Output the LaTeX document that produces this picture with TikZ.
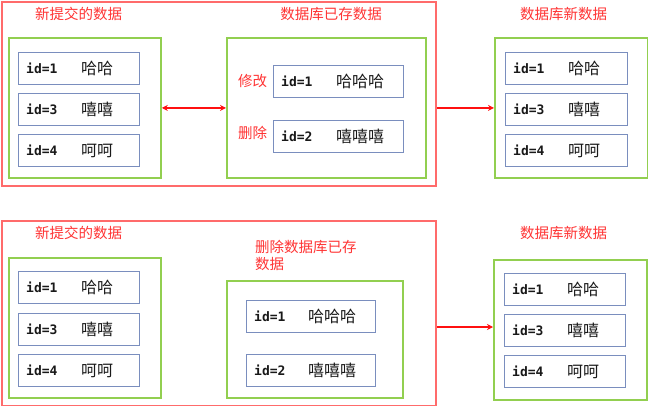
\documentclass[tikz,border=0pt]{standalone}
\usepackage{fontspec}
\usetikzlibrary{arrows.meta}
\newfontfamily\cjk{Noto Sans CJK SC}
\newfontfamily\monof{DejaVu Sans Mono}
\definecolor{outred}{HTML}{FF6B6B}
\definecolor{txtred}{HTML}{FF3333}
\definecolor{grn}{HTML}{92CF50}
\definecolor{blu}{HTML}{7A8EBE}
\definecolor{arrred}{HTML}{FF1010}
\tikzset{
  outerbox/.style={draw=outred, line width=1.8pt, inner sep=0pt, anchor=north west},
  grnbox/.style={draw=grn, line width=1.8pt, inner sep=0pt, anchor=north west},
  rowb/.style={draw=blu, line width=1.3pt, inner sep=0pt, minimum height=32pt},
  idt/.style={font=\monof\bfseries\fontsize{13}{15}\selectfont, inner sep=0pt, text=black!90},
  cnt/.style={font=\cjk\fontsize{16}{18}\selectfont, inner sep=0pt, text=black!90},
  ttl/.style={font=\cjk\fontsize{14.5}{17}\selectfont, text=txtred, inner sep=0pt},
  arr/.style={draw=arrred, line width=1.7pt},
}
\newcommand\rowbox[7]{%
  \node[rowb, minimum width=#4, anchor=north west] (#1) at (#2,#3) {};
  \node[idt, anchor=west] (#1i) at ([xshift=8pt]#1.west) {#5};
  \node[cnt, anchor=west] (#1c) at ([xshift=#7pt]#1.west) {#6};
}
\begin{document}
\begin{tikzpicture}[x=1pt,y=-1pt]
\useasboundingbox (0,0) rectangle (648,406);
% ---------- top panel ----------
\node[outerbox, minimum width=434.5, minimum height=184] (topo) at (0.9,0.9) {};
\node[ttl] (t1) at (78.5,14) {新提交的数据};
\node[ttl] (t2) at (331,14) {数据库已存数据};
\node[ttl] (t3) at (563.5,14) {数据库新数据};
\node[grnbox, minimum width=152, minimum height=140] (lg) at (8,37) {};
\rowbox{a1}{18}{52}{121}{id=1}{哈哈}{63}
\rowbox{a2}{18}{93}{121}{id=3}{嘻嘻}{63}
\rowbox{a3}{18}{134}{121}{id=4}{呵呵}{63}
\node[grnbox, minimum width=199, minimum height=140] (mg) at (226,37) {};
\node[ttl] (l1) at (252.5,81) {修改};
\node[ttl] (l2) at (252.5,133) {删除};
\rowbox{b1}{273}{65}{130}{id=1}{哈哈哈}{63}
\rowbox{b2}{273}{120}{130}{id=2}{嘻嘻嘻}{63}
\node[grnbox, minimum width=153, minimum height=140] (rg) at (494,37) {};
\rowbox{c1}{505}{52}{122}{id=1}{哈哈}{63}
\rowbox{c2}{505}{93}{122}{id=3}{嘻嘻}{63}
\rowbox{c3}{505}{134}{122}{id=4}{呵呵}{63}
\draw[arr, {Stealth[length=6pt,width=6pt]}-{Stealth[length=6pt,width=6pt]}] (lg.east) -- (mg.west);
\draw[arr, -{Stealth[length=6pt,width=6pt]}] (rg.west -| topo.east) -- (rg.west);
% ---------- bottom panel ----------
\node[outerbox, minimum width=434.5, minimum height=184.5] (boto) at (0.9,220) {};
\node[ttl] (u1) at (78.5,233) {新提交的数据};
\node[ttl, anchor=north west, align=left] (u2) at (255,240) {删除数据库已存\\数据};
\node[ttl] (u3) at (563.5,233) {数据库新数据};
\node[grnbox, minimum width=152, minimum height=140] (lg2) at (8,257) {};
\rowbox{d1}{18}{271}{121}{id=1}{哈哈}{63}
\rowbox{d2}{18}{313}{121}{id=3}{嘻嘻}{63}
\rowbox{d3}{18}{354}{121}{id=4}{呵呵}{63}
\node[grnbox, minimum width=176, minimum height=117] (mg2) at (226,280) {};
\rowbox{e1}{246}{300}{129}{id=1}{哈哈哈}{62}
\rowbox{e2}{246}{354}{129}{id=2}{嘻嘻嘻}{62}
\node[grnbox, minimum width=153, minimum height=140] (rg2) at (493,259) {};
\rowbox{f1}{504}{273}{121}{id=1}{哈哈}{63}
\rowbox{f2}{504}{314}{121}{id=3}{嘻嘻}{63}
\rowbox{f3}{504}{355}{121}{id=4}{呵呵}{63}
\coordinate (bt) at (boto.east |- 0,327);
\draw[arr, -{Stealth[length=6pt,width=6pt]}] (bt) -- (bt -| rg2.west);
\end{tikzpicture}
\end{document}
